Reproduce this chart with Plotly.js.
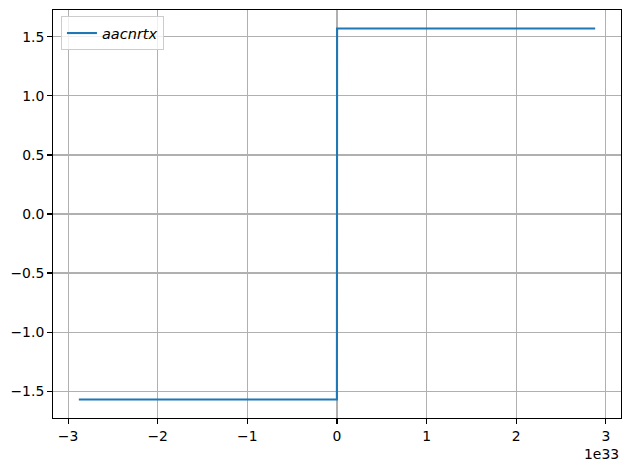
<!DOCTYPE html>
<html>
<head>
<meta charset="utf-8">
<script src="https://cdn.plot.ly/plotly-3.0.1.min.js"></script>
<style>html,body{margin:0;padding:0;background:#fff;}#chart{width:630px;height:470px;}</style>
</head>
<body>
<div id="chart"></div>
<script>
// Data (arctan over a huge x range)
const seriesName = "aacnrtx";
const xValues = [-2.88e33, -0.001e33, 0.001e33, 2.88e33];
const yValues = [-1.5708, -1.5708, 1.5708, 1.5708];
const xTickVals = [-3e33, -2e33, -1e33, 0, 1e33, 2e33, 3e33];
const xTickText = ["\u22123", "\u22122", "\u22121", "0", "1", "2", "3"];
const yTickVals = [-1.5, -1.0, -0.5, 0.0, 0.5, 1.0, 1.5];
const xOffsetText = "1e33";

const font = {family: "DejaVu Sans, sans-serif", size: 13.9, color: "#000"};

const trace = {
  x: xValues, y: yValues, type: "scatter", mode: "lines",
  name: seriesName,
  line: {color: "#1f77b4", width: 2.08}
};

const axisCommon = {
  showgrid: true, gridcolor: "#b0b0b0", gridwidth: 1.1,
  zeroline: false, showline: true, linecolor: "#000", linewidth: 1.1,
  mirror: true, ticks: "outside", ticklen: 4.9, tickwidth: 1.1, tickcolor: "#000",
  tickfont: font
};

const layout = {
  width: 630, height: 470,
  margin: {l: 53, r: 9, t: 10, b: 52, pad: 0},
  paper_bgcolor: "#fff", plot_bgcolor: "#fff",
  font: font,
  showlegend: true,
  legend: {
    x: 0.014, y: 0.985, xanchor: "left", yanchor: "top",
    bgcolor: "rgba(255,255,255,0.8)", bordercolor: "#cccccc", borderwidth: 1,
    font: {family: "DejaVu Sans, sans-serif", size: 14.5, color: "#000", style: "italic"},
    itemwidth: 30, tracegroupgap: 0
  },
  xaxis: Object.assign({}, axisCommon, {
    range: [-3.168e33, 3.168e33], tickmode: "array",
    tickvals: xTickVals, ticktext: xTickText
  }),
  yaxis: Object.assign({}, axisCommon, {
    range: [-1.7279, 1.7279], tickmode: "array",
    tickvals: yTickVals, ticktext: yTickVals.map(v => v.toFixed(1).replace("-", "\u2212"))
  }),
  annotations: [{
    text: xOffsetText, xref: "paper", yref: "paper", x: 1, y: 0,
    xanchor: "right", yanchor: "top", yshift: -26, showarrow: false,
    font: font
  }]
};

Plotly.newPlot("chart", [trace], layout, {displayModeBar: false, staticPlot: true});
</script>
</body>
</html>
